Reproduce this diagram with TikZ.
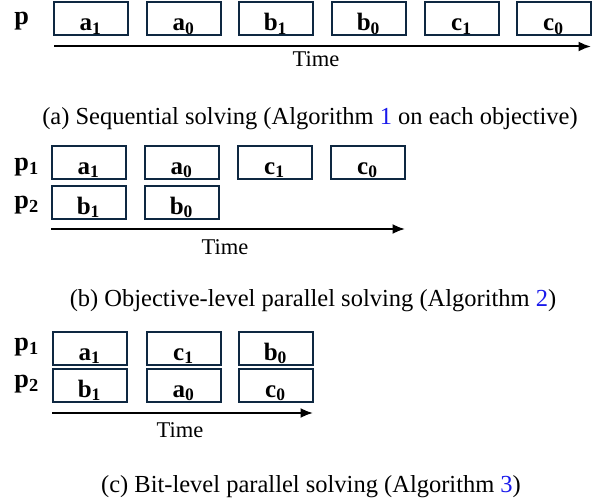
\documentclass[tikz,border=0pt]{standalone}
\usepackage{fontspec}
\setmainfont{Liberation Serif}
\usetikzlibrary{arrows.meta}
\definecolor{slotline}{HTML}{0E2841}
\definecolor{refblue}{RGB}{25,25,235}

\begin{document}
\begin{tikzpicture}[x=0.4pt,y=-0.4pt,
  job/.style={draw=slotline, line width=0.8pt, anchor=north west, inner xsep=0pt, inner ysep=0pt,
    minimum width=29.4pt, text height=11.2pt, text depth=1.8pt, font=\fontsize{10}{11}\selectfont\bfseries},
  lane/.style={anchor=base west, inner sep=0pt, font=\fontsize{10.5}{12}\selectfont\bfseries},
  timeline/.style={line width=0.8pt, -{Latex[length=5pt,width=4pt]}},
  timelabel/.style={anchor=base, inner sep=0pt, font=\fontsize{9}{10}\selectfont},
  subcap/.style={anchor=base, inner sep=0pt, font=\fontsize{9.8}{12}\selectfont}]
  \useasboundingbox (0,0) rectangle (600,499);

  % Panel A: sequential
  \node[lane] (pa) at (14,25) {p};
  \node[job] (sa1) at (53,1.5) {a\textsubscript{1}};
  \node[job] (sa2) at (146,1.5) {a\textsubscript{0}};
  \node[job] (sa3) at (238,1.5) {b\textsubscript{1}};
  \node[job] (sa4) at (331,1.5) {b\textsubscript{0}};
  \node[job] (sa5) at (424,1.5) {c\textsubscript{1}};
  \node[job] (sa6) at (516,1.5) {c\textsubscript{0}};

  \coordinate (ta0) at (54,46.5);
  \coordinate (ta1) at (591,46.5);
  \draw[timeline] (ta0) -- (ta1);
  \node[timelabel] (timea) at (316,67) {Time};
  \node[subcap] (capa) at (310,124) {(a) Sequential solving (Algorithm \textcolor{refblue}{1} on each objective)};

  % Panel B: objective-level parallel
  \node[lane] (pb1) at (14,170) {p\textsubscript{1}};
  \node[lane] (pb2) at (14,208) {p\textsubscript{2}};
  \node[job] (sb1) at (51,145) {a\textsubscript{1}};
  \node[job] (sb2) at (144,145) {a\textsubscript{0}};
  \node[job] (sb3) at (237,145) {c\textsubscript{1}};
  \node[job] (sb4) at (330,145) {c\textsubscript{0}};
  \node[job] (sb5) at (51,185) {b\textsubscript{1}};
  \node[job] (sb6) at (144,185) {b\textsubscript{0}};

  \coordinate (tb0) at (51,229);
  \coordinate (tb1) at (405,229);
  \draw[timeline] (tb0) -- (tb1);
  \node[timelabel] (timeb) at (225,254) {Time};
  \node[subcap] (capb) at (313,306) {(b) Objective-level parallel solving (Algorithm \textcolor{refblue}{2})};

  % Panel C: bit-level parallel
  \node[lane] (pc1) at (14,350) {p\textsubscript{1}};
  \node[lane] (pc2) at (14,387) {p\textsubscript{2}};
  \node[job] (sc1) at (52,331) {a\textsubscript{1}};
  \node[job] (sc2) at (146,331) {c\textsubscript{1}};
  \node[job] (sc3) at (238,331) {b\textsubscript{0}};
  \node[job] (sc4) at (52,368) {b\textsubscript{1}};
  \node[job] (sc5) at (146,368) {a\textsubscript{0}};
  \node[job] (sc6) at (238,368) {c\textsubscript{0}};

  \coordinate (tc0) at (52,413);
  \coordinate (tc1) at (313,413);
  \draw[timeline] (tc0) -- (tc1);
  \node[timelabel] (timec) at (180,437) {Time};
  \node[subcap] (capc) at (311,492) {(c) Bit-level parallel solving (Algorithm \textcolor{refblue}{3})};
\end{tikzpicture}
\end{document}
